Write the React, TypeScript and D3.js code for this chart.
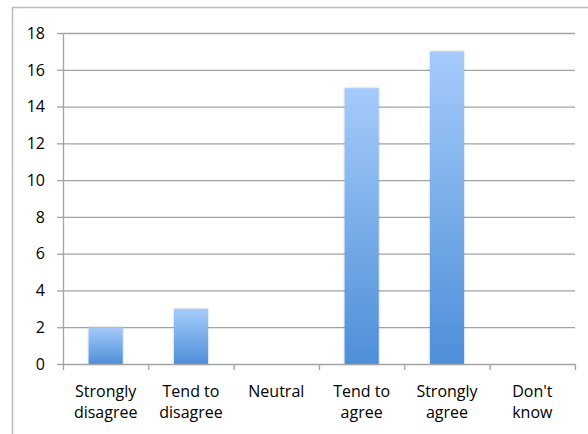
import React from 'react';
import * as d3 from 'd3';

const categories = [
  ['Strongly', 'disagree'],
  ['Tend to', 'disagree'],
  ['Neutral'],
  ['Tend to', 'agree'],
  ['Strongly', 'agree'],
  ["Don't", 'know'],
];
const counts = [2, 3, 0, 15, 17, 0];
const yTicks = [0, 2, 4, 6, 8, 10, 12, 14, 16, 18];

const W = 588;
const H = 434;
const left = 63;
const right = 575;
const top = 33;
const bottom = 364;

export default function App() {
  const keys = categories.map((c) => c.join(' '));
  const x = d3.scaleBand().domain(keys).range([left, right]).paddingInner(0).paddingOuter(0);
  const y = d3.scaleLinear().domain([0, 18]).range([bottom, top]);
  const barW = x.bandwidth() * 0.4;
  const font = "'Open Sans', sans-serif";
  const fs = 16;

  return (
    <svg width={W} height={H} style={{ position: 'absolute', left: 0, top: 0, display: 'block' }}>
      <defs>
        <linearGradient id="barGrad" x1="0" y1="0" x2="0" y2="1">
          <stop offset="0%" stopColor="#a6cbfb" />
          <stop offset="100%" stopColor="#4e8fd8" />
        </linearGradient>
        <filter id="shadow" x="-20%" y="-5%" width="140%" height="110%">
          <feDropShadow dx="0" dy="0" stdDeviation="1.2" floodColor="#000" floodOpacity="0.25" />
        </filter>
      </defs>
      <rect x={0} y={0} width={W} height={H} fill="#fff" />
      {/* outer frame */}
      <path d={`M12.5,${H} V7.5 H${W}`} fill="none" stroke="#bdbdbd" strokeWidth={1.5} />

      {/* grid + y ticks */}
      {yTicks.map((t) => (
        <g key={t}>
          {t > 0 && (
            <line x1={left} x2={right} y1={y(t) + 0.5} y2={y(t) + 0.5} stroke="#a3a3a3" strokeWidth={1.3} />
          )}
          <line x1={left - 6} x2={left} y1={y(t) + 0.5} y2={y(t) + 0.5} stroke="#a3a3a3" strokeWidth={1.3} />
          <text x={45} y={y(t)} dy="0.36em" textAnchor="end" fontFamily={font} fontSize={fs} fill="#000">
            {t}
          </text>
        </g>
      ))}

      {/* bars */}
      {counts.map((v, i) =>
        v > 0 ? (
          <rect
            key={i}
            x={x(keys[i])! + (x.bandwidth() - barW) / 2}
            y={y(v)}
            width={barW}
            height={y(0) - y(v)}
            fill="url(#barGrad)"
            filter="url(#shadow)"
          />
        ) : null
      )}

      {/* axes */}
      <line x1={left + 0.5} x2={left + 0.5} y1={top} y2={bottom} stroke="#a3a3a3" strokeWidth={1.3} />
      <line x1={left} x2={right} y1={bottom + 0.5} y2={bottom + 0.5} stroke="#a3a3a3" strokeWidth={1.3} />
      {d3.range(categories.length + 1).map((i) => {
        const xx = left + i * x.bandwidth();
        return <line key={i} x1={xx + 0.5} x2={xx + 0.5} y1={bottom} y2={bottom + 6} stroke="#a3a3a3" strokeWidth={1.3} />;
      })}

      {/* x labels */}
      {categories.map((c, i) => (
        <text
          key={i}
          x={x(keys[i])! + x.bandwidth() / 2}
          textAnchor="middle"
          fontFamily={font}
          fontSize={fs}
          fill="#000"
        >
          {c.map((line, j) => (
            <tspan key={j} x={x(keys[i])! + x.bandwidth() / 2} y={397 + j * 21}>
              {line}
            </tspan>
          ))}
        </text>
      ))}
    </svg>
  );
}
